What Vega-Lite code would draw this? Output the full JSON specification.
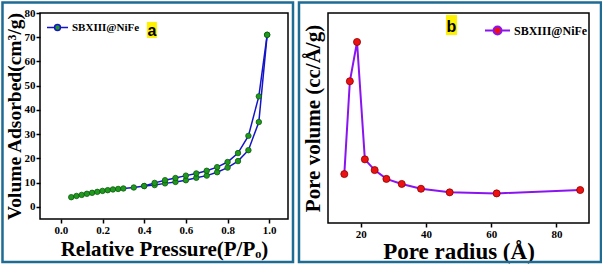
{
  "$schema": "https://vega.github.io/schema/vega-lite/v6.json",
  "padding": 0,
  "background": "white",
  "spacing": 0,
  "config": {
    "view": {"stroke": "black", "strokeWidth": 1.5},
    "axis": {
      "grid": false, "domain": false, "labelOverlap": false, "minExtent": 0,
      "labelFont": "Liberation Serif", "labelFontWeight": "bold", "labelFontSize": 11, "labelColor": "black",
      "titleFont": "Liberation Serif", "titleFontWeight": "bold", "titleColor": "black",
      "tickColor": "black", "tickWidth": 1.5, "tickSize": 4, "labelPadding": 1
    },
    "legend": {
      "labelFont": "Liberation Serif", "labelFontWeight": "bold", "labelFontSize": 11, "labelColor": "black",
      "padding": 0, "labelOffset": 3
    }
  },
  "datasets": {
    "one": [{}],
    "iso": [
      {"p": 0.05, "v": 4.0, "branch": "ads", "series": "SBXIII@NiFe"},
      {"p": 0.075, "v": 4.5, "branch": "ads", "series": "SBXIII@NiFe"},
      {"p": 0.1, "v": 4.95, "branch": "ads", "series": "SBXIII@NiFe"},
      {"p": 0.125, "v": 5.4, "branch": "ads", "series": "SBXIII@NiFe"},
      {"p": 0.15, "v": 5.8, "branch": "ads", "series": "SBXIII@NiFe"},
      {"p": 0.175, "v": 6.2, "branch": "ads", "series": "SBXIII@NiFe"},
      {"p": 0.2, "v": 6.6, "branch": "ads", "series": "SBXIII@NiFe"},
      {"p": 0.225, "v": 6.9, "branch": "ads", "series": "SBXIII@NiFe"},
      {"p": 0.25, "v": 7.2, "branch": "ads", "series": "SBXIII@NiFe"},
      {"p": 0.275, "v": 7.4, "branch": "ads", "series": "SBXIII@NiFe"},
      {"p": 0.3, "v": 7.6, "branch": "ads", "series": "SBXIII@NiFe"},
      {"p": 0.35, "v": 8.0, "branch": "ads", "series": "SBXIII@NiFe"},
      {"p": 0.4, "v": 8.6, "branch": "ads", "series": "SBXIII@NiFe"},
      {"p": 0.45, "v": 9.0, "branch": "ads", "series": "SBXIII@NiFe"},
      {"p": 0.5, "v": 9.7, "branch": "ads", "series": "SBXIII@NiFe"},
      {"p": 0.55, "v": 10.3, "branch": "ads", "series": "SBXIII@NiFe"},
      {"p": 0.6, "v": 11.0, "branch": "ads", "series": "SBXIII@NiFe"},
      {"p": 0.65, "v": 12.0, "branch": "ads", "series": "SBXIII@NiFe"},
      {"p": 0.7, "v": 12.9, "branch": "ads", "series": "SBXIII@NiFe"},
      {"p": 0.75, "v": 14.3, "branch": "ads", "series": "SBXIII@NiFe"},
      {"p": 0.8, "v": 16.2, "branch": "ads", "series": "SBXIII@NiFe"},
      {"p": 0.85, "v": 18.9, "branch": "ads", "series": "SBXIII@NiFe"},
      {"p": 0.9, "v": 23.4, "branch": "ads", "series": "SBXIII@NiFe"},
      {"p": 0.95, "v": 35.0, "branch": "ads", "series": "SBXIII@NiFe"},
      {"p": 0.99, "v": 71.0, "branch": "ads", "series": "SBXIII@NiFe"},
      {"p": 0.99, "v": 71.0, "branch": "des", "series": "SBXIII@NiFe"},
      {"p": 0.95, "v": 45.6, "branch": "des", "series": "SBXIII@NiFe"},
      {"p": 0.9, "v": 29.3, "branch": "des", "series": "SBXIII@NiFe"},
      {"p": 0.85, "v": 22.2, "branch": "des", "series": "SBXIII@NiFe"},
      {"p": 0.8, "v": 18.5, "branch": "des", "series": "SBXIII@NiFe"},
      {"p": 0.75, "v": 16.4, "branch": "des", "series": "SBXIII@NiFe"},
      {"p": 0.7, "v": 14.9, "branch": "des", "series": "SBXIII@NiFe"},
      {"p": 0.65, "v": 13.8, "branch": "des", "series": "SBXIII@NiFe"},
      {"p": 0.6, "v": 12.9, "branch": "des", "series": "SBXIII@NiFe"},
      {"p": 0.55, "v": 11.9, "branch": "des", "series": "SBXIII@NiFe"},
      {"p": 0.5, "v": 11.0, "branch": "des", "series": "SBXIII@NiFe"},
      {"p": 0.45, "v": 9.9, "branch": "des", "series": "SBXIII@NiFe"},
      {"p": 0.4, "v": 8.6, "branch": "des", "series": "SBXIII@NiFe"}
    ],
    "psd": [
      {"r": 15.0, "pv": 0.0233, "series": "SBXIII@NiFe"},
      {"r": 16.7, "pv": 0.0675, "series": "SBXIII@NiFe"},
      {"r": 18.9, "pv": 0.0862, "series": "SBXIII@NiFe"},
      {"r": 21.3, "pv": 0.0303, "series": "SBXIII@NiFe"},
      {"r": 24.3, "pv": 0.0252, "series": "SBXIII@NiFe"},
      {"r": 27.9, "pv": 0.0210, "series": "SBXIII@NiFe"},
      {"r": 32.6, "pv": 0.0186, "series": "SBXIII@NiFe"},
      {"r": 38.5, "pv": 0.0163, "series": "SBXIII@NiFe"},
      {"r": 47.3, "pv": 0.0146, "series": "SBXIII@NiFe"},
      {"r": 61.7, "pv": 0.0141, "series": "SBXIII@NiFe"},
      {"r": 87.3, "pv": 0.0157, "series": "SBXIII@NiFe"}
    ]
  },
  "resolve": {"scale": {"stroke": "independent"}, "legend": {"stroke": "independent"}},
  "hconcat": [
    {
      "width": 248, "height": 206,
      "layer": [
        {
          "data": {"name": "one"},
          "mark": {"type": "rect", "filled": false, "color": "#1e6b94", "strokeWidth": 2.5},
          "encoding": {
            "x": {"datum": -0.28, "type": "quantitative", "scale": {"domain": [-0.1, 1.09]}, "title": "Relative Pressure(P/Pₒ)",
                  "axis": {"values": [0, 0.2, 0.4, 0.6, 0.8, 1.0], "format": ".1f", "labelOverlap": false, "titleFontSize": 21, "titlePadding": 3}},
            "x2": {"datum": 1.114},
            "y": {"datum": 84.33, "type": "quantitative", "scale": {"domain": [-5, 80]}, "title": "Volume Adsorbed(cm³/g)",
                  "axis": {"values": [0, 10, 20, 30, 40, 50, 60, 70, 80], "tickCount": 9, "labelOverlap": false, "titleFontSize": 19.5, "titlePadding": 0}},
            "y2": {"datum": -22.74}
          }
        },
        {
          "data": {"name": "one"},
          "mark": {"type": "rect", "color": "#fff200"},
          "encoding": {
            "x": {"datum": 0.413, "type": "quantitative", "scale": {"domain": [-0.1, 1.09]}, "title": "Relative Pressure(P/Pₒ)",
                  "axis": {"values": [0, 0.2, 0.4, 0.6, 0.8, 1.0], "format": ".1f", "labelOverlap": false, "titleFontSize": 21, "titlePadding": 3}},
            "x2": {"datum": 0.461},
            "y": {"datum": 76.3, "type": "quantitative", "scale": {"domain": [-5, 80]}, "title": "Volume Adsorbed(cm³/g)",
                  "axis": {"values": [0, 10, 20, 30, 40, 50, 60, 70, 80], "tickCount": 9, "labelOverlap": false, "titleFontSize": 19.5, "titlePadding": 0}},
            "y2": {"datum": 69.7}
          }
        },
        {
          "data": {"name": "one"},
          "mark": {"type": "text", "text": "a", "font": "Liberation Sans", "fontWeight": "bold", "fontSize": 16, "color": "black", "align": "center", "baseline": "middle"},
          "encoding": {
            "x": {"datum": 0.437, "type": "quantitative", "scale": {"domain": [-0.1, 1.09]}, "title": "Relative Pressure(P/Pₒ)",
                  "axis": {"values": [0, 0.2, 0.4, 0.6, 0.8, 1.0], "format": ".1f", "labelOverlap": false, "titleFontSize": 21, "titlePadding": 3}},
            "y": {"datum": 72.5, "type": "quantitative", "scale": {"domain": [-5, 80]}, "title": "Volume Adsorbed(cm³/g)",
                  "axis": {"values": [0, 10, 20, 30, 40, 50, 60, 70, 80], "tickCount": 9, "labelOverlap": false, "titleFontSize": 19.5, "titlePadding": 0}}
          }
        },
        {
          "data": {"name": "iso"},
          "mark": {"type": "line", "strokeWidth": 1.5},
          "encoding": {
            "x": {"field": "p", "type": "quantitative", "scale": {"domain": [-0.1, 1.09]}, "title": "Relative Pressure(P/Pₒ)",
                  "axis": {"values": [0, 0.2, 0.4, 0.6, 0.8, 1.0], "format": ".1f", "labelOverlap": false, "titleFontSize": 21, "titlePadding": 3}},
            "y": {"field": "v", "type": "quantitative", "scale": {"domain": [-5, 80]}, "title": "Volume Adsorbed(cm³/g)",
                  "axis": {"values": [0, 10, 20, 30, 40, 50, 60, 70, 80], "tickCount": 9, "labelOverlap": false, "titleFontSize": 19.5, "titlePadding": 0}},
            "detail": {"field": "branch"},
            "stroke": {"field": "series", "type": "nominal", "scale": {"range": ["#1414c8"]},
              "legend": {"title": null, "orient": "none", "legendX": 6, "legendY": 3,
                "symbolType": "M-1,0L-0.28,0M0.28,0L1,0M-0.28,0A0.28,0.28,0,1,1,0.28,0A0.28,0.28,0,1,1,-0.28,0Z",
                "symbolSize": 441,
                "encode": {"symbols": {"update": {
                  "shape": {"value": "M-1,0L-0.28,0M0.28,0L1,0M-0.28,0A0.28,0.28,0,1,1,0.28,0A0.28,0.28,0,1,1,-0.28,0Z"},
                  "size": {"value": 441},
                  "fill": {"value": "#1f9a1f"}, "stroke": {"value": "#1414c8"}, "strokeWidth": {"value": 1.5}, "opacity": {"value": 1}}}}}}
          }
        },
        {
          "data": {"name": "iso"},
          "mark": {"type": "point", "filled": true, "fill": "#1f9a1f", "stroke": "#0b5a0b", "strokeWidth": 0.8, "size": 30, "opacity": 1},
          "encoding": {
            "x": {"field": "p", "type": "quantitative", "scale": {"domain": [-0.1, 1.09]}, "title": "Relative Pressure(P/Pₒ)",
                  "axis": {"values": [0, 0.2, 0.4, 0.6, 0.8, 1.0], "format": ".1f", "labelOverlap": false, "titleFontSize": 21, "titlePadding": 3}},
            "y": {"field": "v", "type": "quantitative", "scale": {"domain": [-5, 80]}, "title": "Volume Adsorbed(cm³/g)",
                  "axis": {"values": [0, 10, 20, 30, 40, 50, 60, 70, 80], "tickCount": 9, "labelOverlap": false, "titleFontSize": 19.5, "titlePadding": 0}}
          }
        }
      ]
    },
    {
      "width": 261, "height": 210,
      "layer": [
        {
          "data": {"name": "one"},
          "mark": {"type": "rect", "filled": false, "color": "#1e6b94", "strokeWidth": 2.5},
          "encoding": {
            "x": {"datum": 1.11, "type": "quantitative", "scale": {"domain": [10, 90]}, "title": "Pore radius (Å)",
                  "axis": {"values": [20, 40, 60, 80], "labelOverlap": false, "titleFontSize": 23, "titlePadding": 1}},
            "x2": {"datum": 93.68},
            "y": {"datum": 0.105, "type": "quantitative", "scale": {"domain": [0, 0.1]}, "title": "Pore volume (cc/Å/g)",
                  "axis": {"labels": false, "ticks": false, "titleFontSize": 21, "titlePadding": 5}},
            "y2": {"datum": -0.01857}
          }
        },
        {
          "data": {"name": "one"},
          "mark": {"type": "rect", "color": "#fff200"},
          "encoding": {
            "x": {"datum": 46.17, "type": "quantitative", "scale": {"domain": [10, 90]}, "title": "Pore radius (Å)",
                  "axis": {"values": [20, 40, 60, 80], "labelOverlap": false, "titleFontSize": 23, "titlePadding": 1}},
            "x2": {"datum": 49.54},
            "y": {"datum": 0.09905, "type": "quantitative", "scale": {"domain": [0, 0.1]}, "title": "Pore volume (cc/Å/g)",
                  "axis": {"labels": false, "ticks": false, "titleFontSize": 21, "titlePadding": 5}},
            "y2": {"datum": 0.08952}
          }
        },
        {
          "data": {"name": "one"},
          "mark": {"type": "text", "text": "b", "font": "Liberation Sans", "fontWeight": "bold", "fontSize": 16, "color": "black", "align": "center", "baseline": "middle"},
          "encoding": {
            "x": {"datum": 47.85, "type": "quantitative", "scale": {"domain": [10, 90]}, "title": "Pore radius (Å)",
                  "axis": {"values": [20, 40, 60, 80], "labelOverlap": false, "titleFontSize": 23, "titlePadding": 1}},
            "y": {"datum": 0.0935, "type": "quantitative", "scale": {"domain": [0, 0.1]}, "title": "Pore volume (cc/Å/g)",
                  "axis": {"labels": false, "ticks": false, "titleFontSize": 21, "titlePadding": 5}}
          }
        },
        {
          "data": {"name": "psd"},
          "mark": {"type": "line", "strokeWidth": 2},
          "encoding": {
            "x": {"field": "r", "type": "quantitative", "scale": {"domain": [10, 90]}, "title": "Pore radius (Å)",
                  "axis": {"values": [20, 40, 60, 80], "labelOverlap": false, "titleFontSize": 23, "titlePadding": 1}},
            "y": {"field": "pv", "type": "quantitative", "scale": {"domain": [0, 0.1]}, "title": "Pore volume (cc/Å/g)",
                  "axis": {"labels": false, "ticks": false, "titleFontSize": 21, "titlePadding": 5}},
            "stroke": {"field": "series", "type": "nominal", "scale": {"range": ["#8a14f0"]},
              "legend": {"title": null, "orient": "none", "legendX": 156, "legendY": 4, "labelFontSize": 12,
                "symbolType": "M-1,0L-0.32,0M0.32,0L1,0M-0.32,0A0.32,0.32,0,1,1,0.32,0A0.32,0.32,0,1,1,-0.32,0Z",
                "symbolSize": 625,
                "encode": {"symbols": {"update": {
                  "shape": {"value": "M-1,0L-0.32,0M0.32,0L1,0M-0.32,0A0.32,0.32,0,1,1,0.32,0A0.32,0.32,0,1,1,-0.32,0Z"},
                  "size": {"value": 625},
                  "fill": {"value": "#ee1111"}, "stroke": {"value": "#8a14f0"}, "strokeWidth": {"value": 2}, "opacity": {"value": 1}}}}}}
          }
        },
        {
          "data": {"name": "psd"},
          "mark": {"type": "point", "filled": true, "fill": "#ee1111", "stroke": "#8b0000", "strokeWidth": 0.8, "size": 50, "opacity": 1},
          "encoding": {
            "x": {"field": "r", "type": "quantitative", "scale": {"domain": [10, 90]}, "title": "Pore radius (Å)",
                  "axis": {"values": [20, 40, 60, 80], "labelOverlap": false, "titleFontSize": 23, "titlePadding": 1}},
            "y": {"field": "pv", "type": "quantitative", "scale": {"domain": [0, 0.1]}, "title": "Pore volume (cc/Å/g)",
                  "axis": {"labels": false, "ticks": false, "titleFontSize": 21, "titlePadding": 5}}
          }
        }
      ]
    }
  ]
}
